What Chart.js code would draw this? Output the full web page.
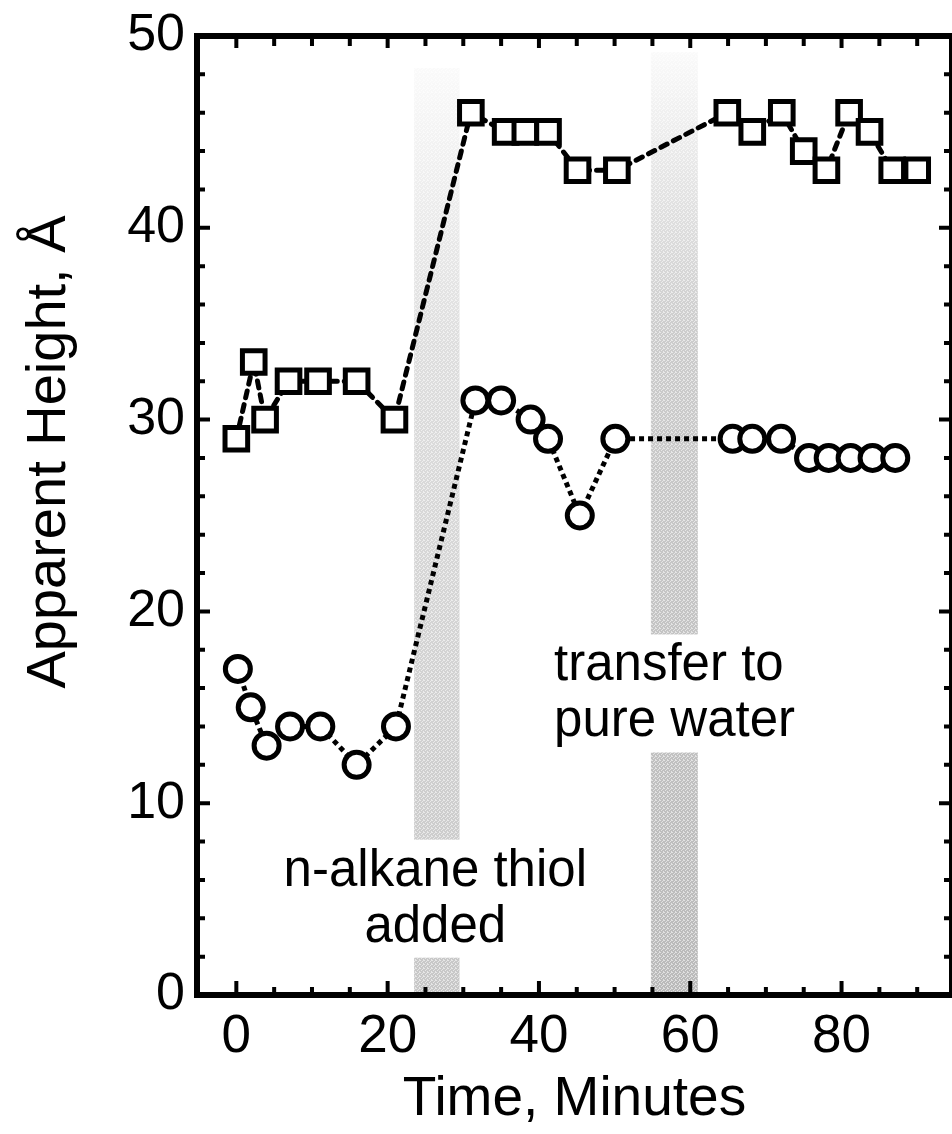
<!DOCTYPE html>
<html>
<head>
<meta charset="utf-8">
<script src="https://cdn.jsdelivr.net/npm/chart.js@4.4.1/dist/chart.umd.min.js"></script>
<style>
  html, body { margin: 0; padding: 0; background: #fff; overflow: hidden; }
  #wrap { width: 952px; height: 1134px; }
</style>
</head>
<body>
<div id="wrap"><canvas id="myChart" width="952" height="1134"></canvas></div>
<script>
// apparent height vs time, two kinds of features
const squareTime   = [0, 2.3, 3.8, 6.9, 10.8, 15.9, 20.9, 31, 35.6, 38.2, 41.2, 45.1, 50.3, 64.9, 68.2, 72.1, 75, 78, 81, 83.7, 86.7, 90];
const squareHeight = [29, 33, 30, 32, 32, 32, 30, 46, 45, 45, 45, 43, 43, 46, 45, 46, 44, 43, 46, 45, 43, 43];

const circleTime   = [0.2, 1.9, 4, 7.1, 11.1, 15.9, 21.1, 31.6, 35, 38.9, 41.2, 45.4, 50.1, 65.6, 68.2, 72, 75.7, 78.3, 81.2, 84.1, 87.1];
const circleHeight = [17, 15, 13, 14, 14, 12, 14, 31, 31, 30, 29, 25, 29, 29, 29, 29, 28, 28, 28, 28, 28];

const xTicks = [0, 20, 40, 60, 80];
const yTicks = [0, 10, 20, 30, 40, 50];

// shaded intervals (minutes): thiol added, transfer to water
const bandRanges = [[23.5, 29.5], [54.8, 61]];

const FONT = "'Liberation Sans', Arial, Helvetica, sans-serif";

const notes = [
    { lines: ['n-alkane thiol', 'added'], x: 26.3, y: 5.7, align: 'center' },
    { lines: ['transfer to', 'pure water'], x: 42.0, y: 16.4, align: 'left' }
];

const toXY = (xs, ys) => xs.map((x, i) => ({ x: x, y: ys[i] }));

// small dotted tile to give the grey bands a grainy look
function grainTile() {
    const c = document.createElement('canvas');
    c.width = 4; c.height = 4;
    const g = c.getContext('2d');
    g.fillStyle = 'rgba(255,255,255,0.55)';
    [[0, 0], [2, 1], [1, 2], [3, 3], [3, 0]].forEach(p => g.fillRect(p[0], p[1], 1, 1));
    return c;
}

// stippled grey bands with gaps where the notes sit
const bandsPlugin = {
    id: 'bands',
    beforeDatasetsDraw(chart) {
        const { ctx, chartArea, scales } = chart;
        const tops = [68, 52];
        const grain = ctx.createPattern(grainTile(), 'repeat');
        ctx.save();
        bandRanges.forEach((b, i) => {
            const x1 = scales.x.getPixelForValue(b[0]);
            const x2 = scales.x.getPixelForValue(b[1]);
            const g = ctx.createLinearGradient(0, tops[i], 0, chartArea.bottom);
            g.addColorStop(0, 'rgba(0,0,0,0.02)');
            g.addColorStop(0.3, i ? 'rgba(0,0,0,0.2)' : 'rgba(0,0,0,0.13)');
            g.addColorStop(1, i ? 'rgba(0,0,0,0.27)' : 'rgba(0,0,0,0.22)');
            ctx.fillStyle = g;
            ctx.fillRect(x1, tops[i], x2 - x1, chartArea.bottom - tops[i]);
            ctx.fillStyle = grain;
            ctx.fillRect(x1, tops[i], x2 - x1, chartArea.bottom - tops[i]);
        });

        ctx.font = '51px ' + FONT;
        ctx.textBaseline = 'alphabetic';
        notes.forEach(n => {
            const x = scales.x.getPixelForValue(n.x);
            const y0 = scales.y.getPixelForValue(n.y);
            const lh = 56;
            const w = Math.max(...n.lines.map(t => ctx.measureText(t).width));
            const left = n.align === 'center' ? x - w / 2 : x;
            ctx.fillStyle = '#fff';
            ctx.fillRect(left - 8, y0 - 46, w + 16, lh * (n.lines.length - 1) + 62);
            ctx.fillStyle = '#000';
            ctx.textAlign = n.align;
            n.lines.forEach((t, j) => ctx.fillText(t, x, y0 + j * lh));
        });
        ctx.restore();
    }
};

// heavy frame with inward ticks on all four sides, plus rotated y title
const framePlugin = {
    id: 'frame',
    afterDraw(chart) {
        const { ctx, chartArea: a, scales } = chart;
        ctx.save();
        ctx.strokeStyle = '#000';
        ctx.lineWidth = 4;
        ctx.beginPath();
        for (let v = -5; v <= 95; v += 5) {
            const px = scales.x.getPixelForValue(v);
            if (px < a.left + 2 || px > a.right - 2) continue;
            const big = v % 20 === 0;
            ctx.moveTo(px, a.bottom); ctx.lineTo(px, a.bottom - (big ? 14 : 8));
            ctx.moveTo(px, a.top); ctx.lineTo(px, a.top + (big ? 12 : 10));
        }
        for (let v = 2; v < 50; v += 2) {
            const py = scales.y.getPixelForValue(v);
            const len = v % 10 === 0 ? 13 : 8;
            ctx.moveTo(a.left, py); ctx.lineTo(a.left + len, py);
            ctx.moveTo(a.right, py); ctx.lineTo(a.right - len, py);
        }
        ctx.stroke();
        ctx.lineWidth = 6;
        ctx.strokeRect(a.left, a.top, a.right - a.left, a.bottom - a.top);

        ctx.translate(50, 452);
        ctx.rotate(-Math.PI / 2);
        ctx.font = '56px ' + FONT;
        ctx.fillStyle = '#000';
        ctx.textAlign = 'center';
        ctx.textBaseline = 'middle';
        ctx.fillText('Apparent Height, Å', 0, 0);
        ctx.restore();
    }
};

const ctx = document.getElementById('myChart').getContext('2d');
const myChart = new Chart(ctx, {
    type: 'line',
    data: {
        datasets: [{
            label: 'squares',
            data: toXY(squareTime, squareHeight),
            borderColor: '#000',
            borderWidth: 5,
            borderDash: [7, 7],
            borderCapStyle: 'round',
            pointStyle: 'rect',
            pointRadius: 16,
            pointBorderWidth: 5,
            pointBorderColor: '#000',
            pointBackgroundColor: '#fff',
            fill: false,
            tension: 0
        }, {
            label: 'circles',
            data: toXY(circleTime, circleHeight),
            borderColor: '#000',
            borderWidth: 5,
            borderDash: [5, 4],
            pointStyle: 'circle',
            pointRadius: 12.5,
            pointBorderWidth: 5,
            pointBorderColor: '#000',
            pointBackgroundColor: '#fff',
            fill: false,
            tension: 0
        }]
    },
    options: {
        responsive: false,
        animation: false,
        devicePixelRatio: 1,
        layout: { autoPadding: false, padding: { top: 36, right: 0, left: 0, bottom: 1 } },
        plugins: { legend: { display: false }, tooltip: { enabled: false } },
        scales: {
            x: {
                type: 'linear',
                min: -5.2,
                max: 94.6,
                afterBuildTicks: s => { s.ticks = xTicks.map(v => ({ value: v })); },
                afterFit: s => { s.height = 138; s.paddingLeft = 0; s.paddingRight = 0; },
                grid: { display: false, drawTicks: false },
                border: { display: false },
                ticks: { color: '#000', font: { family: FONT, size: 53 }, padding: 11, maxRotation: 0 },
                title: { display: true, text: 'Time, Minutes', color: '#000', font: { family: FONT, size: 55 }, padding: { top: 0, bottom: 0 } }
            },
            y: {
                type: 'linear',
                min: 0,
                max: 50,
                afterBuildTicks: s => { s.ticks = yTicks.map(v => ({ value: v })); },
                afterFit: s => { s.width = 197; s.paddingTop = 0; s.paddingBottom = 0; },
                grid: { display: false, drawTicks: false },
                border: { display: false },
                ticks: { color: '#000', font: { family: FONT, size: 52 }, padding: 12 }
            }
        }
    },
    plugins: [bandsPlugin, framePlugin]
});
</script>
</body>
</html>
